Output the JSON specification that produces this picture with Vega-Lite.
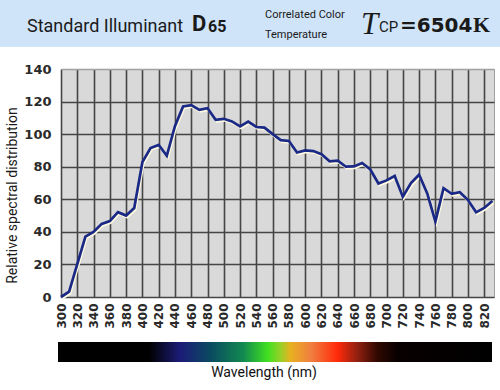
{
  "$schema": "https://vega.github.io/schema/vega-lite/v6.json",
  "padding": 0,
  "background": "#ffffff",
  "spacing": 15,
  "bounds": "full",
  "config": {"view": {"stroke": null}},
  "vconcat": [
    {
      "width": 500,
      "height": 47,
      "view": {"fill": "#cfe4f8", "stroke": null},
      "data": {"values": [{}]},
      "layer": [
        {"mark": {"type": "text", "text": "Standard Illuminant", "x": 27, "y": 32, "align": "left", "baseline": "alphabetic", "font": "Roboto", "fontSize": 18, "color": "#1a1a1a"}},
        {"mark": {"type": "text", "text": "D", "x": 192, "y": 31, "align": "left", "baseline": "alphabetic", "font": "Roboto", "fontSize": 22, "fontWeight": "bold", "color": "#1a1a1a"}},
        {"mark": {"type": "text", "text": "65", "x": 208, "y": 32, "align": "left", "baseline": "alphabetic", "font": "Roboto", "fontSize": 16, "fontWeight": "bold", "color": "#1a1a1a"}},
        {"mark": {"type": "text", "text": "Correlated Color", "x": 265, "y": 18, "align": "left", "baseline": "alphabetic", "font": "Roboto", "fontSize": 11, "color": "#1a1a1a"}},
        {"mark": {"type": "text", "text": "Temperature", "x": 265, "y": 38, "align": "left", "baseline": "alphabetic", "font": "Roboto", "fontSize": 11, "color": "#1a1a1a"}},
        {"mark": {"type": "text", "text": "T", "x": 361, "y": 34, "align": "left", "baseline": "alphabetic", "font": "Liberation Serif", "fontStyle": "italic", "fontSize": 31, "color": "#1a1a1a"}},
        {"mark": {"type": "text", "text": "CP", "x": 379, "y": 32, "align": "left", "baseline": "alphabetic", "font": "Roboto", "fontSize": 15, "color": "#1a1a1a"}},
        {"mark": {"type": "text", "text": "=6504", "x": 400, "y": 32, "align": "left", "baseline": "alphabetic", "font": "DejaVu Sans", "fontWeight": "bold", "fontSize": 20, "color": "#1a1a1a"}},
        {"mark": {"type": "text", "text": "K", "x": 473, "y": 32, "align": "left", "baseline": "alphabetic", "font": "Liberation Serif", "fontWeight": "bold", "fontSize": 22, "color": "#1a1a1a"}}
      ]
    },
    {
      "spacing": 13,
      "bounds": "full",
      "vconcat": [
        {
          "spacing": 0,
          "bounds": "flush",
          "hconcat": [
            {"width": 61, "height": 10, "data": {"values": [{}]}, "mark": {"type": "point", "opacity": 0}, "view": {"stroke": null}},
            {
              "width": 433,
              "height": 228,
              "view": {"fill": "#d9d9d9", "stroke": "#a0a0a0"},
              "data": {"values": [
                {"nm": 300, "v": 0.0}, {"nm": 310, "v": 3.3}, {"nm": 320, "v": 20.2}, {"nm": 330, "v": 37.1},
                {"nm": 340, "v": 40.0}, {"nm": 350, "v": 44.9}, {"nm": 360, "v": 46.6}, {"nm": 370, "v": 52.1},
                {"nm": 380, "v": 50.0}, {"nm": 390, "v": 54.6}, {"nm": 400, "v": 82.8}, {"nm": 410, "v": 91.5},
                {"nm": 420, "v": 93.4}, {"nm": 430, "v": 86.7}, {"nm": 440, "v": 104.9}, {"nm": 450, "v": 117.0},
                {"nm": 460, "v": 117.8}, {"nm": 470, "v": 114.9}, {"nm": 480, "v": 115.9}, {"nm": 490, "v": 108.8},
                {"nm": 500, "v": 109.4}, {"nm": 510, "v": 107.8}, {"nm": 520, "v": 104.8}, {"nm": 530, "v": 107.7},
                {"nm": 540, "v": 104.4}, {"nm": 550, "v": 104.0}, {"nm": 560, "v": 100.0}, {"nm": 570, "v": 96.3},
                {"nm": 580, "v": 95.8}, {"nm": 590, "v": 88.7}, {"nm": 600, "v": 90.0}, {"nm": 610, "v": 89.6},
                {"nm": 620, "v": 87.7}, {"nm": 630, "v": 83.3}, {"nm": 640, "v": 83.7}, {"nm": 650, "v": 80.0},
                {"nm": 660, "v": 80.2}, {"nm": 670, "v": 82.3}, {"nm": 680, "v": 78.3}, {"nm": 690, "v": 69.7},
                {"nm": 700, "v": 71.6}, {"nm": 710, "v": 74.3}, {"nm": 720, "v": 61.6}, {"nm": 730, "v": 69.9},
                {"nm": 740, "v": 75.1}, {"nm": 750, "v": 63.6}, {"nm": 760, "v": 46.4}, {"nm": 770, "v": 66.8},
                {"nm": 780, "v": 63.4}, {"nm": 790, "v": 64.3}, {"nm": 800, "v": 59.5}, {"nm": 810, "v": 52.0},
                {"nm": 820, "v": 54.7}, {"nm": 830, "v": 58.9}
              ]},
              "encoding": {
                "x": {
                  "field": "nm", "type": "quantitative",
                  "scale": {"domain": [300, 832], "nice": false, "zero": false},
                  "axis": {
                    "values": [300, 320, 340, 360, 380, 400, 420, 440, 460, 480, 500, 520, 540, 560, 580, 600, 620, 640, 660, 680, 700, 720, 740, 760, 780, 800, 820],
                    "grid": true, "gridColor": "#454545", "gridWidth": 1.6,
                    "ticks": false, "domain": false,
                    "labelAngle": 270, "labelFont": "DejaVu Sans", "labelFontWeight": "bold", "labelFontSize": 12,
                    "labelColor": "#2a2a2a", "labelPadding": 6, "labelFlush": false, "labelOverlap": false,
                    "title": null
                  }
                },
                "y": {
                  "field": "v", "type": "quantitative",
                  "scale": {"domain": [0, 140], "nice": false},
                  "axis": {
                    "values": [0, 20, 40, 60, 80, 100, 120, 140],
                    "grid": true,
                    "gridColor": {"condition": {"test": "datum.value == 140", "value": "#a0a0a0"}, "value": "#454545"},
                    "gridWidth": 1.6,
                    "ticks": false, "domain": false,
                    "labelFont": "DejaVu Sans", "labelFontWeight": "bold", "labelFontSize": 13,
                    "labelColor": "#2a2a2a", "labelPadding": 10,
                    "title": "Relative spectral distribution",
                    "titleFont": "Roboto", "titleFontSize": 14, "titleFontWeight": "normal",
                    "titleColor": "#1a1a1a", "titlePadding": 4, "titleY": 126
                  }
                }
              },
              "layer": [
                {"mark": {"type": "line", "stroke": "#fffbe0", "strokeWidth": 2.5, "xOffset": 1, "yOffset": 1.6}},
                {"mark": {"type": "line", "stroke": "#1a2886", "strokeWidth": 2.7}}
              ]
            }
          ]
        },
        {
          "spacing": 0,
          "bounds": "flush",
          "hconcat": [
            {"width": 58, "height": 10, "data": {"values": [{}]}, "mark": {"type": "point", "opacity": 0}, "view": {"stroke": null}},
            {
              "width": 434,
              "height": 20,
              "title": {"text": "Wavelength (nm)", "orient": "bottom", "font": "Roboto", "fontSize": 14, "fontWeight": "normal", "color": "#111111", "offset": 4, "dx": -11},
              "data": {"values": [{"band": "visible spectrum"}]},
              "mark": {
                "type": "rect",
                "color": {
                  "gradient": "linear", "x1": 0, "x2": 1, "y1": 0, "y2": 0,
                  "stops": [
                    {"offset": 0, "color": "#000000"},
                    {"offset": 0.21, "color": "#000000"},
                    {"offset": 0.282, "color": "#1c1c78"},
                    {"offset": 0.351, "color": "#0a4a60"},
                    {"offset": 0.427, "color": "#128a50"},
                    {"offset": 0.483, "color": "#40e020"},
                    {"offset": 0.513, "color": "#98d028"},
                    {"offset": 0.536, "color": "#e8b020"},
                    {"offset": 0.582, "color": "#f08040"},
                    {"offset": 0.644, "color": "#ff2a0a"},
                    {"offset": 0.69, "color": "#902010"},
                    {"offset": 0.736, "color": "#300800"},
                    {"offset": 0.782, "color": "#080000"},
                    {"offset": 1, "color": "#000000"}
                  ]
                }
              },
              "encoding": {}
            }
          ]
        }
      ]
    }
  ]
}
